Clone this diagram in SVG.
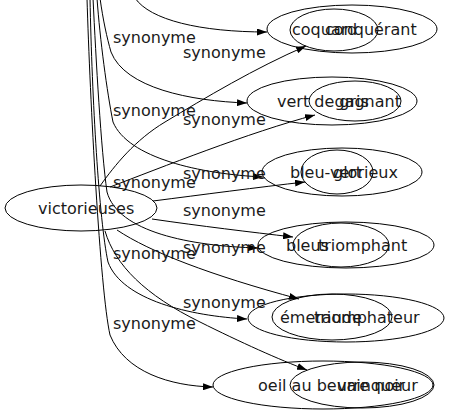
<svg xmlns="http://www.w3.org/2000/svg" width="450" height="419" viewBox="0 0 450 419">
<defs>
<marker id="ah" markerUnits="userSpaceOnUse" markerWidth="10" markerHeight="7" refX="10" refY="3.5" orient="auto">
<path d="M0,0 L10,3.5 L0,7 z" fill="#000"/>
</marker>
<style>
.e{fill:none;stroke:#000;stroke-width:1;marker-end:url(#ah)}
.n ellipse{fill:none;stroke:#000;stroke-width:1}
text{font-family:"DejaVu Sans",sans-serif;font-size:16px;fill:#1a1a1a}
</style>
</defs>
<rect width="450" height="419" fill="#fff"/>
<g id="edges">
<path class="e" d="M135,-2 C150,20 200,32 267,32"/>
<path class="e" d="M100,-2 C103,20 107,38 111,52 C125,88 190,101 247,103"/>
<path class="e" d="M97,-2 C100,40 107,92 113,122 C128,158 200,174 263,177"/>
<path class="e" d="M93,-2 C96,60 101,150 107,192 C118,232 190,246 258,248"/>
<path class="e" d="M90,-2 C92,100 99,220 108,262 C122,300 190,316 247,319"/>
<path class="e" d="M87,-2 C90,100 100,290 110,335 C125,372 170,386 213,387"/>
<path class="e" d="M100,186 C115,165 135,140 165,122 C205,98 255,68 306,46"/>
<path class="e" d="M110,187 C160,168 250,132 315,115"/>
<path class="e" d="M153,201 C200,195 260,187 305,182"/>
<path class="e" d="M152,219 C200,226 250,232 293,237"/>
<path class="e" d="M117,230 C150,252 210,275 299,299"/>
<path class="e" d="M105,231 C115,265 145,295 200,322 C240,342 280,360 307,370"/>
<text x="113" y="43">synonyme</text>
<text x="183" y="58">synonyme</text>
<text x="113" y="116">synonyme</text>
<text x="183" y="124.5">synonyme</text>
<text x="113" y="188">synonyme</text>
<text x="183" y="179">synonyme</text>
<text x="183" y="216">synonyme</text>
<text x="113" y="259">synonyme</text>
<text x="183" y="253">synonyme</text>
<text x="183" y="308">synonyme</text>
<text x="113" y="329">synonyme</text>
</g>
<g id="victorieuses" class="n"><ellipse cx="81" cy="208" rx="76" ry="23"/><text x="38" y="214">victorieuses</text></g>
<g id="coquard" class="n"><ellipse cx="334" cy="30" rx="44" ry="21"/><text x="292" y="35">coquard</text></g>
<g id="conquerant" class="n"><ellipse cx="352" cy="29" rx="85" ry="24"/><text x="325" y="35">conquérant</text></g>
<g id="vertdegris" class="n"><ellipse cx="332" cy="101" rx="85" ry="24"/><text x="277" y="107">vert de gris</text></g>
<g id="gagnant" class="n"><ellipse cx="355" cy="101" rx="46" ry="20"/><text x="334.5" y="107">gagnant</text></g>
<g id="bleuvert" class="n"><ellipse cx="337" cy="172" rx="36" ry="22"/><text x="290" y="178">bleu-vert</text></g>
<g id="glorieux" class="n"><ellipse cx="342" cy="172" rx="80" ry="24"/><text x="333" y="178">glorieux</text></g>
<g id="bleus" class="n"><ellipse cx="341" cy="245" rx="48" ry="22"/><text x="286" y="251">bleus</text></g>
<g id="triomphant" class="n"><ellipse cx="346" cy="245" rx="88" ry="23"/><text x="318" y="251">triomphant</text></g>
<g id="emeraude" class="n"><ellipse cx="332" cy="317" rx="60" ry="23"/><text x="280" y="323">émeraude</text></g>
<g id="triomphateur" class="n"><ellipse cx="346" cy="318" rx="98" ry="24"/><text x="314" y="323">triomphateur</text></g>
<g id="oeil" class="n"><ellipse cx="323" cy="385" rx="110" ry="24"/><text x="258" y="391">oeil au beurre noir</text></g>
<g id="vainqueur" class="n"><ellipse cx="362" cy="385" rx="72" ry="23"/><text x="337" y="391">vainqueur</text></g>
</svg>
